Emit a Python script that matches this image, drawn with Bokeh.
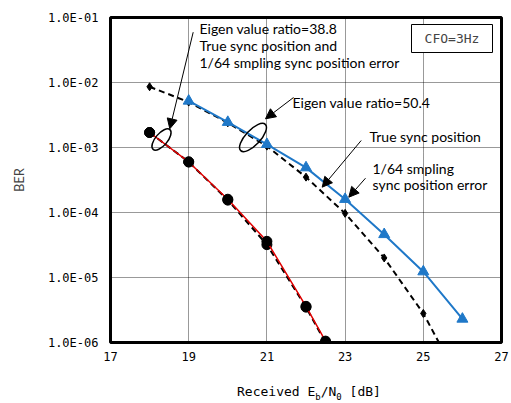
import math
from bokeh.plotting import figure
from bokeh.models import FixedTicker, Label, Arrow, NormalHead, BoxAnnotation, Div
from bokeh.layouts import column
from bokeh.embed import file_html
from bokeh.resources import INLINE

# ---------------- data ----------------
# Eigen value ratio = 38.8
snr_a = [18, 19, 20, 21, 22, 22.5]
ber_a_true = [1.7e-3, 6.0e-4, 1.6e-4, 3.6e-5, 3.6e-6, 1.05e-6]
ber_a_err = [1.7e-3, 6.0e-4, 1.55e-4, 3.2e-5, 3.5e-6, 1.0e-6]
# Eigen value ratio = 50.4
snr_b_true = [19, 20, 21, 22, 23, 24, 25, 26]
ber_b_true = [5.2e-3, 2.45e-3, 1.12e-3, 4.9e-4, 1.6e-4, 4.6e-5, 1.23e-5, 2.3e-6]
snr_b_err = [18, 19, 20, 21, 22, 23, 24, 25, 25.4]
ber_b_err = [8.6e-3, 5.0e-3, 2.4e-3, 1.05e-3, 3.5e-4, 9.7e-5, 2.0e-5, 2.8e-6, 1.0e-6]

x_ticks = [17, 19, 21, 23, 25, 27]
y_ticks = [1e-6, 1e-5, 1e-4, 1e-3, 1e-2, 1e-1]
y_tick_labels = ["1.0E-06", "1.0E-05", "1.0E-04", "1.0E-03", "1.0E-02", "1.0E-01"]

# ---------------- geometry helpers (reference pixel -> data) ----------------
FL, FT, FW, FH = 110.0, 17.0, 391.0, 325.0
X0, X1 = 17.0, 27.0
LY0, LY1 = -6.0, -1.0


def px_x(px):
    return X0 + (px - FL) / FW * (X1 - X0)


def px_y(py):
    return 10 ** (LY1 - (py - FT) / FH * (LY1 - LY0))


MONO = "DejaVu Sans Mono"
SANS = "Lato"

p = figure(width=511, height=380, x_range=(X0, X1), y_range=(1e-6, 1e-1),
           y_axis_type="log", output_backend="svg", toolbar_location=None,
           min_border_left=110, min_border_right=10, min_border_top=17,
           min_border_bottom=38)
p.background_fill_color = "white"
p.border_fill_color = "white"
p.outline_line_color = "black"
p.outline_line_width = 3

p.xaxis.ticker = FixedTicker(ticks=x_ticks)
p.yaxis.ticker = FixedTicker(ticks=y_ticks)
p.yaxis.major_label_overrides = {t: l for t, l in zip(y_ticks, y_tick_labels)}
for ax in (p.xaxis[0], p.yaxis[0]):
    ax.axis_line_color = None
    ax.major_tick_line_color = None
    ax.minor_tick_line_color = None
    ax.major_tick_out = 0
    ax.major_tick_in = 0
    ax.major_label_text_font = MONO
    ax.major_label_text_font_size = "12px"
    ax.major_label_text_color = "black"
p.yaxis.major_label_standoff = 12
p.xaxis.major_label_standoff = 9
p.yaxis.axis_label = "BER"
p.yaxis.axis_label_text_font = SANS
p.yaxis.axis_label_text_font_style = "normal"
p.yaxis.axis_label_text_font_size = "13px"
p.yaxis.axis_label_standoff = 18

for g in (p.xgrid[0], p.ygrid[0]):
    g.grid_line_color = "black"
    g.grid_line_dash = "1 1"
    g.grid_line_width = 1
    g.grid_line_alpha = 0.8
p.ygrid.minor_grid_line_color = None

# ---------------- series ----------------
p.line(snr_b_err, ber_b_err, line_color="black", line_width=2, line_dash="6 4")
p.scatter(snr_b_err[:-1], ber_b_err[:-1], marker="diamond", size=8, color="black")
p.line(snr_b_true, ber_b_true, line_color="#1f78c8", line_width=2)
p.scatter(snr_b_true, ber_b_true, marker="triangle", size=11, color="#1f78c8")

p.line(snr_a, ber_a_err, line_color="black", line_width=2, line_dash="6 4")
p.scatter(snr_a, ber_a_err, marker="circle", size=10, color="black")
p.line(snr_a, ber_a_true, line_color="#e00000", line_width=1.5)
p.scatter(snr_a, ber_a_true, marker="circle", size=10, color="black")

# ---------------- annotations ----------------
p.ellipse(x=[px_x(161), px_x(252.5)], y=[px_y(139), px_y(137)],
          width=[26, 36], height=[12, 15], angle=[0.87, 0.82],
          width_units="screen", height_units="screen",
          fill_color=None, line_color="black", line_width=1.5)

arrows = [((192.7, 31.7), (169.3, 128.3)),
          ((293, 97), (265, 118.3)),
          ((360.7, 140), (321.7, 186.7)),
          ((365, 177.7), (348.3, 196.7))]
for (xs, ys), (xe, ye) in arrows:
    p.add_layout(Arrow(end=NormalHead(size=10, fill_color="black", line_color="black"),
                       x_start=px_x(xs), y_start=px_y(ys), x_end=px_x(xe), y_end=px_y(ye),
                       line_color="black", line_width=1))

texts = [("Eigen value ratio=38.8", 199, 28),
         ("True sync position and", 199, 45),
         ("1/64 smpling sync position error", 199, 62),
         ("Eigen value ratio=50.4", 292, 102),
         ("True sync position", 369, 136),
         ("1/64 smpling", 372, 168),
         ("sync position error", 372, 184)]
for t, xpx, ypx in texts:
    p.add_layout(Label(x=px_x(xpx), y=px_y(ypx), text=t, text_font=SANS,
                       text_font_size="14px", text_baseline="middle", text_align="left",
                       text_color="black"))

p.add_layout(BoxAnnotation(left=px_x(411), right=px_x(492), top=px_y(24), bottom=px_y(52),
                           fill_color="white", fill_alpha=1, line_color="black",
                           line_width=1, line_alpha=1))
p.add_layout(Label(x=px_x(451.5), y=px_y(38), text="CFO=3Hz", text_font=MONO,
                   text_font_size="13px", text_baseline="middle", text_align="center"))

# x axis label with subscripts (HTML below the figure)
xlabel_html = ('Received E<sub style="font-size:9px">b</sub>/N'
               '<sub style="font-size:9px">0</sub> [dB]')
div = Div(text=xlabel_html, width=511, height=23, margin=(0, 0, 0, 0),
          styles={"font-family": MONO, "font-size": "13px", "color": "black",
                  "padding-left": "237px", "padding-top": "5px", "line-height": "1"})

layout = column(p, div, spacing=0)
open("out.html", "w").write(file_html(layout, INLINE))
